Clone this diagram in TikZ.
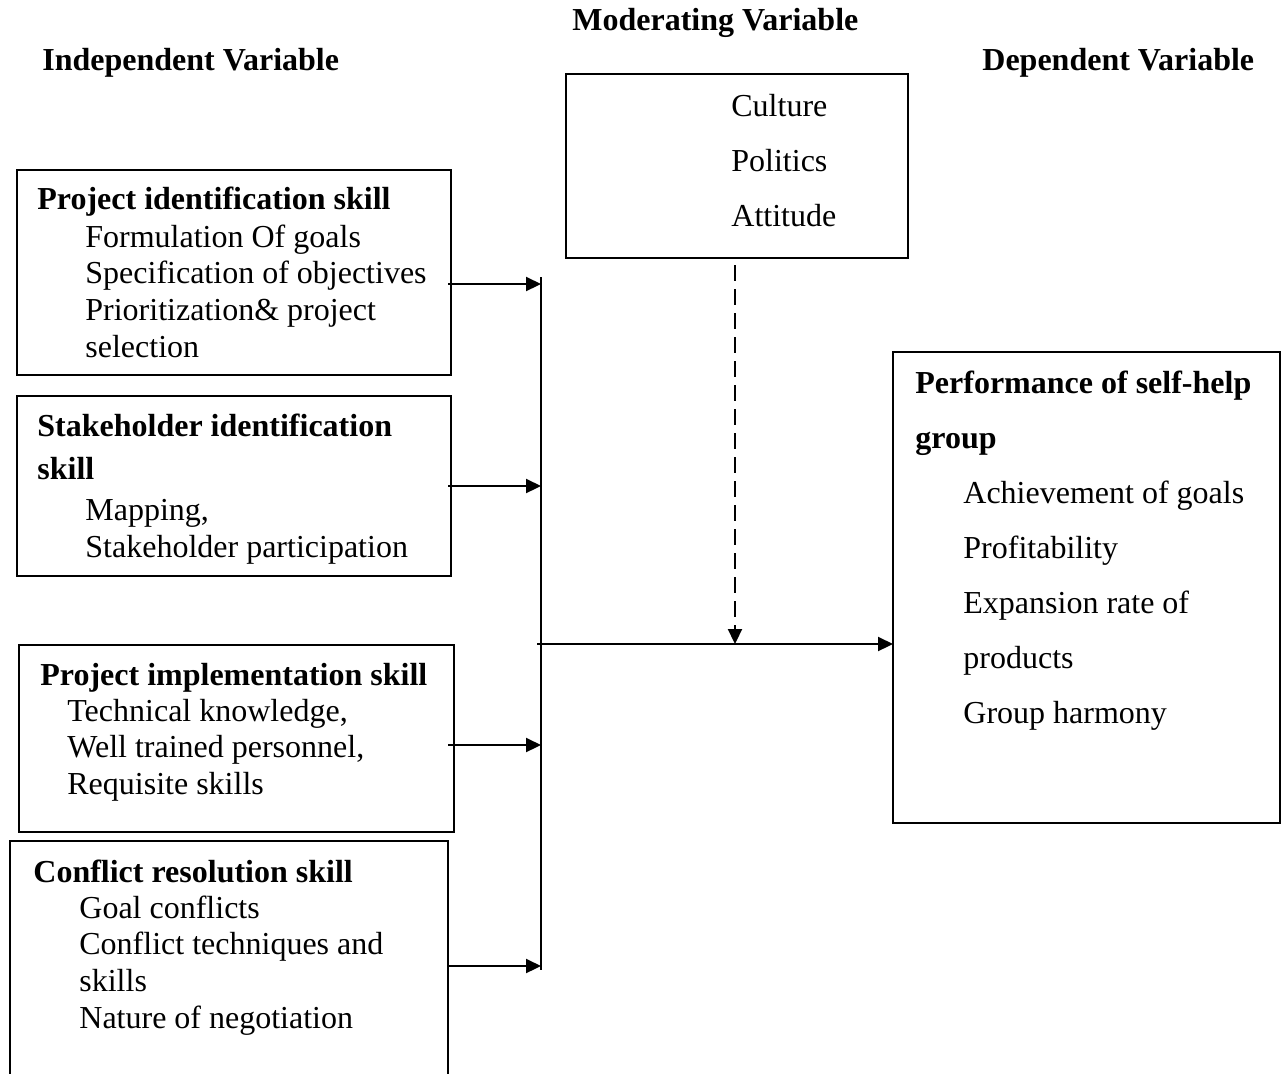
\documentclass[tikz,border=0pt]{standalone}
\usepackage{fontspec}
\setmainfont{Liberation Serif}
\usetikzlibrary{arrows.meta}

\begin{document}
\begin{tikzpicture}[x=0.5pt,y=-0.5pt,
  box/.style={draw, line width=0.75pt, anchor=north west, inner sep=0, outer sep=0},
  txt/.style={anchor=base west, inner sep=0, font=\fontsize{16}{18}\selectfont},
  head/.style={txt, font=\fontsize{16}{18}\selectfont\bfseries},
  arr/.style={line width=1.1pt, -{Triangle[length=7.5pt,width=7pt]}}]
  % page frame
  \useasboundingbox (0,0) rectangle (1281,1073);
  \clip (0,0) rectangle (1281,1073);

  % column titles
  \node[head] (indep) at (42,70) {Independent Variable};
  \node[head] (moder) at (572,30) {Moderating Variable};
  \node[head] (depen) at (982,70) {Dependent Variable};

  % boxes
  \node[box, minimum width=217pt, minimum height=102.5pt] (b1) at (17,170) {};
  \node[box, minimum width=217pt, minimum height=90pt] (b2) at (17,396) {};
  \node[box, minimum width=217.5pt, minimum height=93.5pt] (b3) at (19,645) {};
  \node[box, minimum width=219pt, minimum height=150pt] (b4) at (10,841) {};
  \node[box, minimum width=171pt, minimum height=92pt] (mod) at (566,74) {};
  \node[box, minimum width=193.5pt, minimum height=235.5pt] (dep) at (893,352) {};

  % project identification
  \node[head] (h1) at (37,209) {Project identification skill};
  \foreach \t [count=\i from 0] in {Formulation Of goals, Specification of objectives,
      {Prioritization\& project}, selection}
    \node[txt] (pi\i) at (85,{247+36.7*\i}) {\t};

  % stakeholder identification
  \node[head] (h2a) at (37,436) {Stakeholder identification};
  \node[head] (h2b) at (37,479) {skill};
  \node[txt] (si0) at (85,520) {Mapping,};
  \node[txt] (si1) at (85,557) {Stakeholder participation};

  % project implementation
  \node[head] (h3) at (40,685) {Project implementation skill};
  \foreach \t [count=\i from 0] in {{Technical knowledge,}, {Well trained personnel,},
      Requisite skills}
    \node[txt] (im\i) at (67,{721+36.7*\i}) {\t};

  % conflict resolution
  \node[head] (h4) at (33,882) {Conflict resolution skill};
  \foreach \t [count=\i from 0] in {Goal conflicts, Conflict techniques and,
      skills, Nature of negotiation}
    \node[txt] (cr\i) at (79,{918+36.9*\i}) {\t};

  % moderating items
  \foreach \t [count=\i from 0] in {Culture, Politics, Attitude}
    \node[txt] (mv\i) at (731,{116+55*\i}) {\t};

  % dependent variable
  \node[head] (h5a) at (915,393) {Performance of self-help};
  \node[head] (h5b) at (915,448) {group};
  \foreach \t [count=\i from 0] in {Achievement of goals, Profitability,
      Expansion rate of, products, Group harmony}
    \node[txt] (dv\i) at (963,{503+55.2*\i}) {\t};

  % connectors
  \coordinate (bustop) at (541,277);
  \coordinate (busbot) at (541,970);
  \coordinate (j1) at (541,284);
  \coordinate (j2) at (541,486);
  \coordinate (j3) at (541,745);
  \coordinate (j4) at (541,966);
  \coordinate (hstart) at (537,644);

  \draw[line width=1.1pt] (bustop) -- (busbot);
  \draw[arr] ([xshift=-1.5pt]b1.east |- j1) -- (j1);
  \draw[arr] ([xshift=-1.5pt]b2.east |- j2) -- (j2);
  \draw[arr] ([xshift=-3pt]b3.east |- j3) -- (j3);
  \draw[arr] (b4.east |- j4) -- (j4);
  \draw[arr] (hstart) -- (dep.west |- hstart);
  \draw[arr, dash pattern=on 8pt off 4pt] ([xshift=-1pt,yshift=-3.5pt]mod.south) -- ([xshift=-1pt]mod.south |- hstart);
\end{tikzpicture}
\end{document}
